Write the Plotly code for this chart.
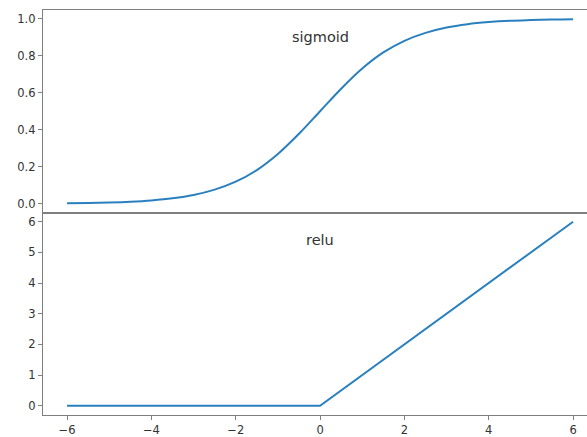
import plotly.graph_objects as go
from plotly.subplots import make_subplots

# Data
x_sig = [-6, -5.5, -5, -4.5, -4, -3.5, -3, -2.5, -2, -1.5, -1, -0.5, 0,
         0.5, 1, 1.5, 2, 2.5, 3, 3.5, 4, 4.5, 5, 5.5, 6]
y_sig = [0.0025, 0.004, 0.0067, 0.011, 0.018, 0.029, 0.047, 0.076, 0.119,
         0.182, 0.269, 0.378, 0.5, 0.622, 0.731, 0.818, 0.881, 0.924, 0.953,
         0.971, 0.982, 0.989, 0.993, 0.996, 0.9975]
x_relu = [-6, 0, 6]
y_relu = [0, 0, 6]
titles = ["sigmoid", "relu"]
x_ticks = [-6, -4, -2, 0, 2, 4, 6]
x_tick_text = ["\u22126", "\u22124", "\u22122", "0", "2", "4", "6"]
y1_ticks = [0.0, 0.2, 0.4, 0.6, 0.8, 1.0]
y2_ticks = [0, 1, 2, 3, 4, 5, 6]

BLUE = "#2a80bf"
SPINE = "#7f7f7f"
TXT = "#333333"
FONT = "DejaVu Sans"

fig = make_subplots(rows=2, cols=1, shared_xaxes=True, vertical_spacing=0)
fig.add_trace(go.Scatter(x=x_sig, y=y_sig, mode="lines", line_shape="spline",
                         line=dict(color=BLUE, width=2), showlegend=False), row=1, col=1)
fig.add_trace(go.Scatter(x=x_relu, y=y_relu, mode="lines",
                         line=dict(color=BLUE, width=2), showlegend=False), row=2, col=1)

xr = [-6.57, 6.33]
common_axis = dict(showgrid=False, zeroline=False, showline=True, linecolor=SPINE,
                   linewidth=1.2, tickcolor=SPINE, ticklen=4, tickwidth=1,
                   tickfont=dict(family=FONT, size=11.5, color=TXT))
fig.update_xaxes(**common_axis, range=xr, mirror=True, tickvals=x_ticks,
                 ticktext=x_tick_text)
fig.update_xaxes(ticks="", showticklabels=False, row=1, col=1)
fig.update_xaxes(ticks="outside", showticklabels=True, row=2, col=1)
fig.update_yaxes(**common_axis, ticks="outside", mirror=False)
fig.update_yaxes(range=[-0.0475, 1.0475], tickvals=y1_ticks,
                 ticktext=[f"{v:.1f}" for v in y1_ticks], row=1, col=1)
fig.update_yaxes(range=[-0.3, 6.3], tickvals=y2_ticks, row=2, col=1)

for i, t in enumerate(titles):
    fig.add_annotation(text=t, xref="x" if i == 0 else "x2", x=0.0,
                       yref=("y domain" if i == 0 else "y2 domain"), y=0.866,
                       yanchor="middle", xanchor="center", showarrow=False,
                       font=dict(family=FONT, size=14.5, color=TXT))

fig.update_layout(width=587, height=437, margin=dict(l=43, r=0, t=10, b=22),
                  paper_bgcolor="white", plot_bgcolor="white",
                  font=dict(family=FONT, color=TXT))
fig.write_html("out.html", config={"displayModeBar": False},
               post_script="document.body.style.margin='0';"
                           "document.body.style.padding='0';"
                           "document.body.style.overflow='hidden';")
